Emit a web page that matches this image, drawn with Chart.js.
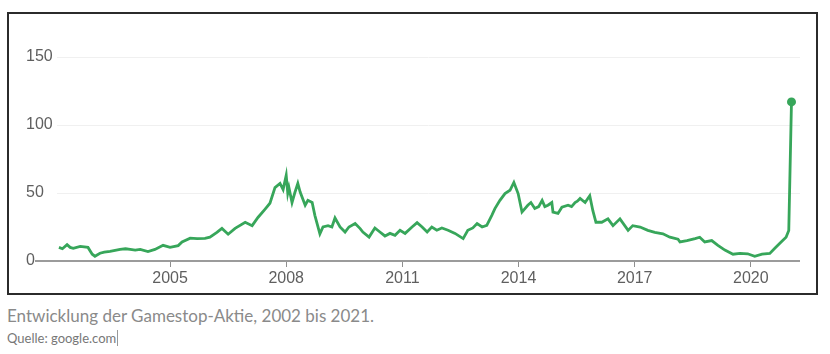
<!DOCTYPE html>
<html>
<head>
<meta charset="utf-8">
<script src="https://cdn.jsdelivr.net/npm/chart.js@4.4.1/dist/chart.umd.min.js"></script>
<style>
  body { margin: 0; background: #fff; width: 830px; height: 354px; overflow: hidden; }
  #box { position: absolute; left: 7px; top: 12px; width: 807px; height: 279px; border: 2px solid #2b2b2b; }
  #caption { position: absolute; left: 7px; top: 305px; font-family: Lato, sans-serif; font-size: 17px; color: #8a8a8a; white-space: nowrap; }
  #source { position: absolute; left: 7px; top: 330px; font-family: Lato, sans-serif; font-size: 13px; color: #777; white-space: nowrap; }
  #source span { border-right: 1px solid #999; padding-right: 1px; }
</style>
</head>
<body>
<div id="box"><canvas id="myChart" width="807" height="279"></canvas></div>
<div id="caption">Entwicklung der Gamestop-Aktie, 2002 bis 2021.</div>
<div id="source"><span>Quelle: google.com</span></div>
<script>
// Kursverlauf GME, Jahr als Dezimalzahl
var years = [
  2002.13, 2002.22, 2002.34, 2002.42, 2002.50, 2002.68, 2002.88, 2002.99, 2003.06, 2003.19,
  2003.30, 2003.45, 2003.71, 2003.85, 2003.97, 2004.10, 2004.23, 2004.43, 2004.61, 2004.82,
  2005.00, 2005.21, 2005.31, 2005.52, 2005.70, 2005.90, 2006.03, 2006.21, 2006.34, 2006.50,
  2006.68, 2006.94, 2007.12, 2007.27, 2007.45, 2007.58, 2007.71, 2007.84, 2007.92, 2008.00,
  2008.04, 2008.07, 2008.15, 2008.22, 2008.30, 2008.36, 2008.49, 2008.56, 2008.67, 2008.74,
  2008.87, 2008.95, 2009.08, 2009.18, 2009.26, 2009.39, 2009.52, 2009.62, 2009.78, 2009.91,
  2009.98, 2010.14, 2010.29, 2010.42, 2010.55, 2010.68, 2010.81, 2010.94, 2011.07, 2011.25,
  2011.38, 2011.51, 2011.64, 2011.76, 2011.89, 2012.02, 2012.18, 2012.36, 2012.57, 2012.69,
  2012.82, 2012.93, 2013.06, 2013.18, 2013.31, 2013.39, 2013.52, 2013.65, 2013.78, 2013.88,
  2013.99, 2014.09, 2014.24, 2014.32, 2014.42, 2014.52, 2014.61, 2014.68, 2014.76, 2014.86,
  2014.89, 2015.02, 2015.12, 2015.28, 2015.37, 2015.46, 2015.52, 2015.59, 2015.72, 2015.84,
  2015.92, 2016.00, 2016.15, 2016.31, 2016.44, 2016.62, 2016.83, 2016.95, 2017.14, 2017.34,
  2017.52, 2017.73, 2017.91, 2018.12, 2018.17, 2018.35, 2018.56, 2018.68, 2018.81, 2018.99,
  2019.15, 2019.33, 2019.54, 2019.72, 2019.92, 2020.10, 2020.29, 2020.49, 2020.62, 2020.75,
  2020.91, 2020.98, 2021.05
];
var prices = [
  10, 9, 12, 10, 9.3, 10.8, 10, 5, 3.5, 5.7,
  6.5, 7, 8.6, 9, 8.5, 8, 8.5, 7, 8.5, 11.5,
  10, 11.3, 14, 16.8, 16.5, 16.7, 17.5, 21, 24, 19.7,
  24, 28.5, 26, 32, 38, 42.5, 54, 57, 52.5, 63,
  50, 54, 43, 50, 57, 50.7, 41, 44.6, 43, 33.6,
  20, 25, 26, 25, 31.6, 25, 21.3, 25, 27.5, 23.8,
  21.3, 17.6, 24.3, 21.3, 18.4, 20.3, 18.9, 22.6, 20.3, 25,
  28.2, 25, 21.3, 25, 22.6, 24.3, 22.6, 20.3, 16.5, 22.6,
  24.3, 27.5, 25, 26.2, 33.6, 38.5, 44.6, 49.6, 52, 57.8,
  49.6, 36, 41, 43, 38.6, 40, 44.6, 40, 41, 43,
  36, 35, 39.5, 41, 40, 43, 44, 46, 43, 48,
  37, 28.5, 28.5, 31, 26, 31, 22.5, 26, 25, 22.5,
  21, 20, 17.5, 16, 14, 15, 16.5, 17.5, 14, 15,
  11.5, 8, 5, 5.6, 5.3, 3.5, 5, 5.6, 9.3, 13,
  17.5, 22.5, 117
];
var yearTicks = [2005, 2008, 2011, 2014, 2017, 2020];
var yTicks = [0, 50, 100, 150];

var green = '#37a65a';
var last = prices.length - 1;

// Nulllinie etwas nach links verlaengert, wie im Original
var zeroLine = {
  id: 'zeroLine',
  beforeDatasetsDraw: function(chart) {
    var c = chart.ctx, y = chart.scales.y.getPixelForValue(0), a = chart.chartArea;
    c.save();
    c.strokeStyle = '#9b9b9b';
    c.lineWidth = 2;
    c.beginPath();
    c.moveTo(a.left - 22, y);
    c.lineTo(a.right, y);
    c.stroke();
    c.restore();
  }
};

var ctx = document.getElementById('myChart').getContext('2d');
var myChart = new Chart(ctx, {
  type: 'line',
  data: {
    datasets: [{
      data: years.map(function(x, i) { return { x: x, y: prices[i] }; }),
      borderColor: green,
      backgroundColor: green,
      borderWidth: 2.8,
      fill: false,
      tension: 0,
      pointRadius: function(c) { return c.dataIndex === last ? 4.5 : 0; },
      pointBorderWidth: 0
    }]
  },
  options: {
    responsive: false,
    animation: false,
    layout: { padding: { left: 17, right: 16, top: 43, bottom: 0 } },
    plugins: { legend: { display: false }, tooltip: { enabled: false } },
    scales: {
      x: {
        type: 'linear',
        min: 2002.08,
        max: 2021.27,
        afterBuildTicks: function(s) { s.ticks = yearTicks.map(function(v) { return { value: v }; }); },
        afterFit: function(s) { s.height = 32; },
        border: { display: false },
        grid: { drawOnChartArea: false, drawTicks: true, tickLength: 6, tickColor: '#8f8f8f', tickWidth: 1 },
        ticks: {
          padding: 2,
          maxRotation: 0,
          color: '#5f5f5f',
          font: { family: 'Liberation Sans, Arial, sans-serif', size: 16 },
          callback: function(v) { return String(v); }
        }
      },
      y: {
        min: 0,
        max: 150,
        afterBuildTicks: function(s) { s.ticks = yTicks.map(function(v) { return { value: v }; }); },
        afterFit: function(s) { s.width = 31; },
        border: { display: false },
        grid: {
          drawTicks: false,
          color: function(c) { return c.tick && c.tick.value === 0 ? 'rgba(0,0,0,0)' : '#f0f0f0'; }
        },
        ticks: {
          crossAlign: 'far',
          padding: 0,
          color: '#5f5f5f',
          font: { family: 'Liberation Sans, Arial, sans-serif', size: 16 },
          callback: function(v) { return String(v); }
        }
      }
    }
  },
  plugins: [zeroLine]
});
</script>
</body>
</html>
